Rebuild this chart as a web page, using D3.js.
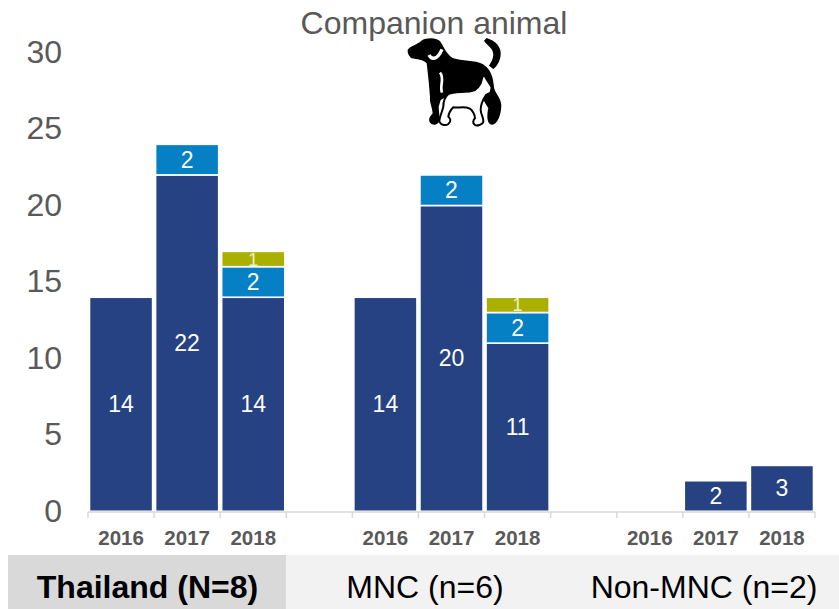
<!DOCTYPE html>
<html><head><meta charset="utf-8">
<script src="https://cdnjs.cloudflare.com/ajax/libs/d3/7.8.5/d3.min.js"></script>
<style>html,body{margin:0;padding:0;background:#fff}svg{display:block}text{font-family:"Liberation Sans",Arial,sans-serif}</style>
</head><body><svg id="c" width="839" height="609"></svg>
<script>
const years = ["2016","2017","2018","","2016","2017","2018","","2016","2017","2018"];
const seriesA = [14,22,14,0,14,20,11,0,0,2,3];
const seriesB = [0,2,2,0,0,2,2,0,0,0,0];
const seriesC = [0,0,1,0,0,0,1,0,0,0,0];
const seriesColors = ["#264283","#0580c4","#a9b000"];
const yTicks = [0,5,10,15,20,25,30];
const groupLabels = ["Thailand (N=8)","MNC (n=6)","Non-MNC (n=2)"];
const title = "Companion animal";

const svg = d3.select("#c");
const x = d3.scaleBand().domain(d3.range(years.length)).range([88,815]).paddingInner(0.045).paddingOuter(0.0225);
const tickX = d3.scaleLinear().domain([0,years.length]).range([88,815]);
const y = d3.scaleLinear().domain([0,30]).range([511.3,52.6]);

const rows = years.map((yr,i)=>({i,a:seriesA[i],b:seriesB[i],c:seriesC[i]}));
const stack = d3.stack().keys(["a","b","c"])(rows);

stack.forEach((s,k)=>{
  svg.append("g").selectAll("rect").data(s.filter(d=>d[1]>d[0])).join("rect")
    .attr("x",d=>x(d.data.i)).attr("width",x.bandwidth())
    .attr("y",d=>y(d[1])).attr("height",d=>y(d[0])-y(d[1]))
    .attr("fill",seriesColors[k]).attr("stroke","#fff").attr("stroke-width",1.6);
  svg.append("g").selectAll("text").data(s.filter(d=>d[1]>d[0])).join("text")
    .attr("x",d=>x(d.data.i)+x.bandwidth()/2)
    .attr("y",d=>(y(d[0])+y(d[1]))/2+(k===2?6.5:8))
    .attr("text-anchor","middle").attr("font-size",k===2?18:23).attr("fill",k===2?"#eef0c8":"#fff")
    .text(d=>d[1]-d[0]);
});

const axis = svg.append("g").attr("stroke","#d9d9d9").attr("stroke-width",1.5).attr("fill","none");
axis.append("line").attr("x1",88).attr("x2",815).attr("y1",512).attr("y2",512);
axis.selectAll("line.t").data(d3.range(years.length+1)).join("line").attr("class","t")
  .attr("x1",d=>tickX(d)).attr("x2",d=>tickX(d)).attr("y1",512).attr("y2",518);

svg.append("g").selectAll("text").data(yTicks).join("text")
  .attr("x",62).attr("y",d=>y(d)+10.3).attr("text-anchor","end")
  .attr("font-size",32).attr("fill","#595959").text(d=>d);

svg.append("g").selectAll("text").data(rows.filter(r=>years[r.i])).join("text")
  .attr("x",d=>x(d.i)+x.bandwidth()/2).attr("y",544.5)
  .attr("text-anchor","middle").attr("font-size",20.5).attr("font-weight","bold").attr("fill","#595959")
  .text(d=>years[d.i]);

svg.append("text").attr("x",434).attr("y",34).attr("text-anchor","middle")
  .attr("font-size",32).attr("fill","#595959").text(title);

svg.append("rect").attr("x",8).attr("y",555).attr("width",831).attr("height",54).attr("fill","#f2f2f2");
svg.append("rect").attr("x",8).attr("y",555).attr("width",278).attr("height",54).attr("fill","#d9d9d9");
const gx=[147.5,425,704];
svg.append("g").selectAll("text").data(groupLabels).join("text")
  .attr("x",(d,i)=>gx[i]).attr("y",598).attr("text-anchor","middle")
  .attr("font-size",32).attr("font-weight",(d,i)=>i==0?"bold":"normal").attr("fill","#000").text(d=>d);

// pet icon
const icon = svg.append("g").attr("transform","translate(380,0) scale(0.3333)");
icon.append("path").attr("fill","#000").attr("d","M83,150 C88,138 112,134 124,122 C140,112 172,112 182,126 C192,142 198,160 218,174 C245,184 285,180 308,192 C332,206 340,232 342,262 C345,280 362,292 364,315 C364,345 352,374 336,374 C320,374 320,345 325,325 L310,300 L200,290 L182,300 L176,320 L178,345 C180,360 178,372 165,374 C148,374 144,360 150,350 L158,340 C156,320 148,305 150,292 C148,260 144,225 140,190 C130,178 110,178 95,175 C88,170 82,160 83,150 Z");
icon.append("path").attr("fill","#000").attr("d","M312,122 L320,114 C345,122 365,140 362,165 C360,185 350,200 340,207 L327,197 C338,180 345,165 335,148 C328,138 318,132 312,122 Z");
icon.append("path").attr("fill","#fff").attr("stroke","#000").attr("stroke-width",6).attr("stroke-linejoin","round").attr("d","M302,250 L310,222 L335,262 L332,278 L318,285 C308,300 302,315 302,330 C303,345 312,355 310,365 C308,375 290,378 285,375 C276,370 280,360 285,355 C285,345 278,330 268,325 C250,318 235,325 220,322 C212,330 206,342 205,350 C212,356 214,364 205,372 C198,377 185,377 178,365 C178,352 185,340 190,320 C190,305 196,290 205,282 C225,272 260,280 285,270 C292,265 298,258 302,250 Z");
icon.append("path").attr("fill","none").attr("stroke","#fff").attr("stroke-width",8).attr("d","M180,218 C195,235 178,255 186,278");
icon.append("path").attr("fill","none").attr("stroke","#fff").attr("stroke-width",10).attr("d","M147,165 C155,180 172,180 186,148");
</script></body></html>
